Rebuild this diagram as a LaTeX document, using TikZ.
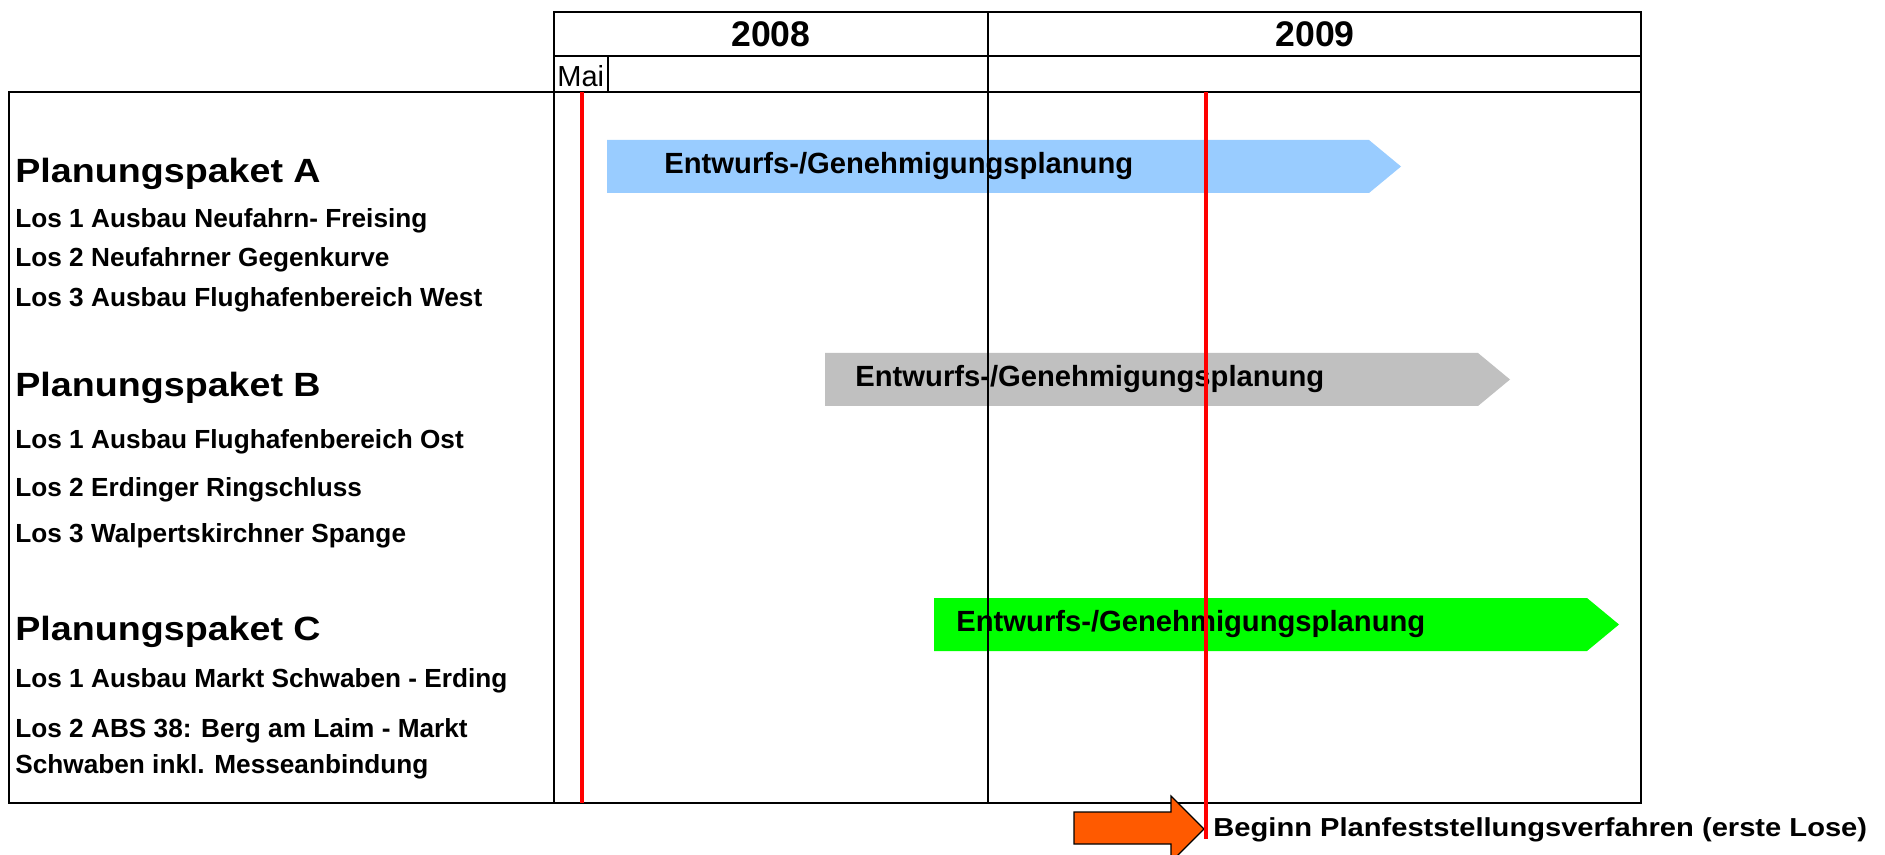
\documentclass[tikz,border=0pt]{standalone}
\usepackage{fontspec}
\setmainfont{Liberation Sans}
\newfontfamily\widefont[FakeStretch=1.12]{Liberation Sans}
\usepackage{xcolor}
\definecolor{BarBlue}{HTML}{99CCFF}
\definecolor{BarGray}{HTML}{C0C0C0}
\definecolor{BarGreen}{HTML}{00FF00}
\definecolor{MarkerRed}{HTML}{FF0000}
\definecolor{ArrowOrange}{HTML}{FF5A00}
\usetikzlibrary{positioning}

\begin{document}
\begin{tikzpicture}[
  x=0.5pt, y=-0.5pt,
  % === STILE ===
  % Rahmenlinien
  frame/.style={draw=black, line width=1pt},
  thinframe/.style={draw=black, line width=0.7pt},
  % Rote Stichtagslinie
  marker/.style={draw=MarkerRed, line width=2.2pt},
  % Paket-Überschriften
  paket/.style={anchor=base west, inner sep=0pt,
    font=\widefont\bfseries\fontsize{16.8}{18}\selectfont},
  % Lose
  los/.style={anchor=base west, inner sep=0pt,
    font=\bfseries\fontsize{13.1}{15}\selectfont},
  % Balkentext
  bartext/.style={anchor=base west, inner sep=0pt,
    font=\bfseries\fontsize{14.6}{16}\selectfont},
  % Jahre / Monate
  year/.style={inner sep=0pt, font=\bfseries\fontsize{17.8}{20}\selectfont},
  month/.style={anchor=base west, inner sep=0pt,
    font=\fontsize{14.5}{16}\selectfont},
  % Hinweis unten
  note/.style={anchor=base west, inner sep=0pt,
    font=\widefont\bfseries\fontsize{13}{15}\selectfont}
]

\useasboundingbox (0,0) rectangle (1885,855);

% --- Balken ---
\foreach \name/\xa/\xb/\ya/\yb/\col/\xt in {
    pa/607/1369/140/193/BarBlue/664,
    pb/825/1478/353/406/BarGray/855,
    pc/934/1587/598/651/BarGreen/956} {
  \fill[\col] (\xa,\ya) -- (\xb,\ya) -- ({\xb+32},{(\ya+\yb)/2})
    -- (\xb,\yb) -- (\xa,\yb) -- cycle;
  \node[bartext] (bar\name) at (\xt,{(\ya+\yb)/2+7}) {Entwurfs-/Genehmigungsplanung};
}

% --- Linke Spalte ---
\node[paket] (pakA) at (15,183) {Planungspaket A};
\node[los] (losA1) at (15,228) {Los 1 Ausbau Neufahrn- Freising};
\node[los] (losA2) at (15,267) {Los 2 Neufahrner Gegenkurve};
\node[los] (losA3) at (15,307) {Los 3 Ausbau Flughafenbereich West};

\node[paket] (pakB) at (15,397) {Planungspaket B};
\node[los] (losB1) at (15,449) {Los 1 Ausbau Flughafenbereich Ost};
\node[los] (losB2) at (15,496) {Los 2 Erdinger Ringschluss};
\node[los] (losB3) at (15,543) {Los 3 Walpertskirchner Spange};

\node[paket] (pakC) at (15,640) {Planungspaket C};
\node[los] (losC1) at (15,687) {Los 1 Ausbau Markt Schwaben - Erding};
\node[los] (losC2) at (15,737) {Los 2 ABS 38: Berg am Laim - Markt};
\node[los] (losC3) at (15,773) {Schwaben inkl. Messeanbindung};

% --- Kopfzeile ---
\node[year] (y2008) at (771,34) {2008};
\node[year] (y2009) at (1315,34) {2009};
\node[month] (mai) at (557,87) {Mai};

% --- Raster ---
\draw[frame] (9,92) rectangle (1641,803);
\draw[frame] (554,12) rectangle (1641,92);
\draw[frame] (554,56) -- (1641,56);
\draw[thinframe] (554,92) -- (554,803);
\draw[thinframe] (988,12) -- (988,803);
\draw[thinframe] (608,56) -- (608,92);

% --- Pfeil unten ---
\filldraw[fill=ArrowOrange, draw=black, line width=0.6pt]
  (1074,812) -- (1171,812) -- (1171,796) -- (1204,829)
  -- (1171,862) -- (1171,844) -- (1074,844) -- cycle;
\node[note] (beginn) at (1213,836) {Beginn Planfeststellungsverfahren (erste Lose)};

% --- Stichtage ---
\draw[marker] (582,92) -- (582,803);
\draw[marker] (1206,92) -- (1206,839);

\end{tikzpicture}
\end{document}
